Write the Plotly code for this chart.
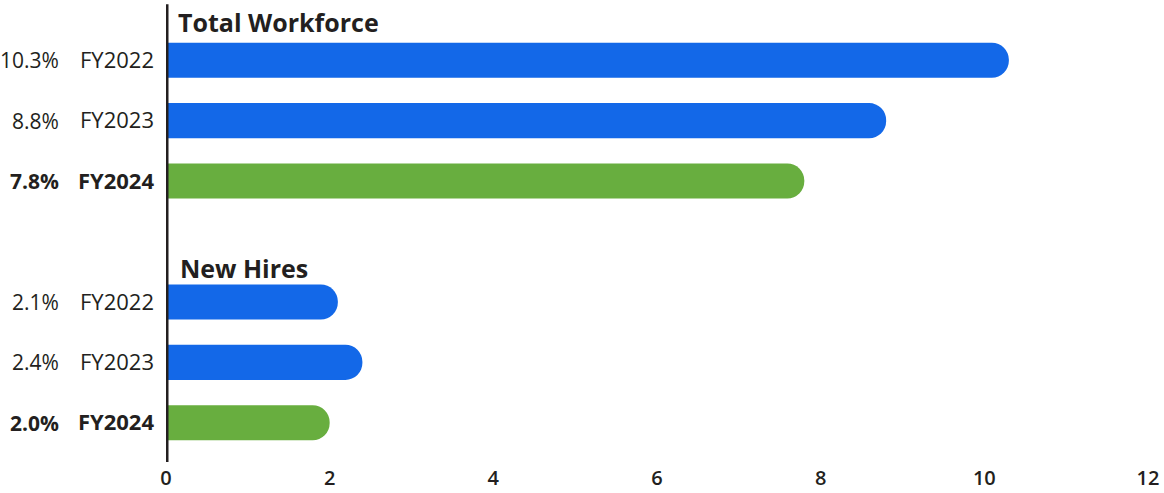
import plotly.graph_objects as go

# Data
categories = ["TW FY2022", "TW FY2023", "TW FY2024", "gap", "NH FY2022", "NH FY2023", "NH FY2024"]
year_labels = ["FY2022", "FY2023", "<b>FY2024</b>", "", "FY2022", "FY2023", "<b>FY2024</b>"]
values = [10.3, 8.8, 7.8, None, 2.1, 2.4, 2.0]
bold_flags = [False, False, True, False, False, False, True]
group_titles = ["Total Workforce", "New Hires"]
x_ticks = [0, 2, 4, 6, 8, 10, 12]

BLUE = "#1368E8"
GREEN = "#68AE3F"
TEXT = "#231F20"
FONT = "Open Sans"

colors = [GREEN if b else BLUE for b in bold_flags]

fig = go.Figure()
fig.add_trace(go.Bar(
    y=categories,
    x=values,
    orientation="h",
    marker=dict(color=colors, line=dict(width=0), cornerradius="50%"),
    width=0.58,
    hoverinfo="skip",
))

annotations = []
# percent labels
for cat, v, b in zip(categories, values, bold_flags):
    if v is None:
        continue
    txt = f"{v:.1f}%"
    if b:
        txt = f"<b>{txt}</b>"
    annotations.append(dict(
        x=-0.107, xref="paper", xanchor="right",
        y=cat, yref="y", yanchor="middle",
        text=txt, showarrow=False,
        font=dict(family=FONT, size=21, color=TEXT),
    ))

# group titles
annotations.append(dict(
    x=0.0, xref="paper", xanchor="left", xshift=10,
    y=1.0, yref="paper", yanchor="middle", yshift=8,
    text=f"<b>{group_titles[0]}</b>", showarrow=False,
    font=dict(family=FONT, size=25, color=TEXT),
))
annotations.append(dict(
    x=0.0, xref="paper", xanchor="left", xshift=12,
    y="gap", yref="y", yanchor="middle", yshift=-26,
    text=f"<b>{group_titles[1]}</b>", showarrow=False,
    font=dict(family=FONT, size=25, color=TEXT),
))

fig.update_layout(
    width=1164, height=493,
    margin=dict(l=166, r=16, t=30, b=40, autoexpand=False),
    paper_bgcolor="white", plot_bgcolor="white",
    showlegend=False,
    bargap=0.42,
    annotations=annotations,
    font=dict(family=FONT, color=TEXT),
    shapes=[dict(
        type="line", xref="x", yref="paper",
        x0=0, x1=0, y0=-0.021, y1=1.061,
        line=dict(color=TEXT, width=5),
        layer="above",
    )],
)

fig.update_xaxes(
    range=[0, 12],
    tickvals=x_ticks,
    ticktext=[str(t) for t in x_ticks],
    showgrid=False, zeroline=False, showline=False,
    ticks="", automargin=False,
    tickfont=dict(family=FONT, size=20, color=TEXT, weight=600),
    ticklabelstandoff=11,
)

fig.update_yaxes(
    type="category",
    categoryorder="array", categoryarray=categories,
    tickvals=categories, ticktext=year_labels,
    range=[6.5, -0.5],
    showgrid=False, zeroline=False, showline=False,
    ticks="", automargin=False,
    tickfont=dict(family=FONT, size=22, color=TEXT),
    ticklabelstandoff=11,
)

fig.write_html(
    "out.html",
    config={"displayModeBar": False},
    post_script="document.body.style.margin='0';document.body.style.padding='0';",
)
